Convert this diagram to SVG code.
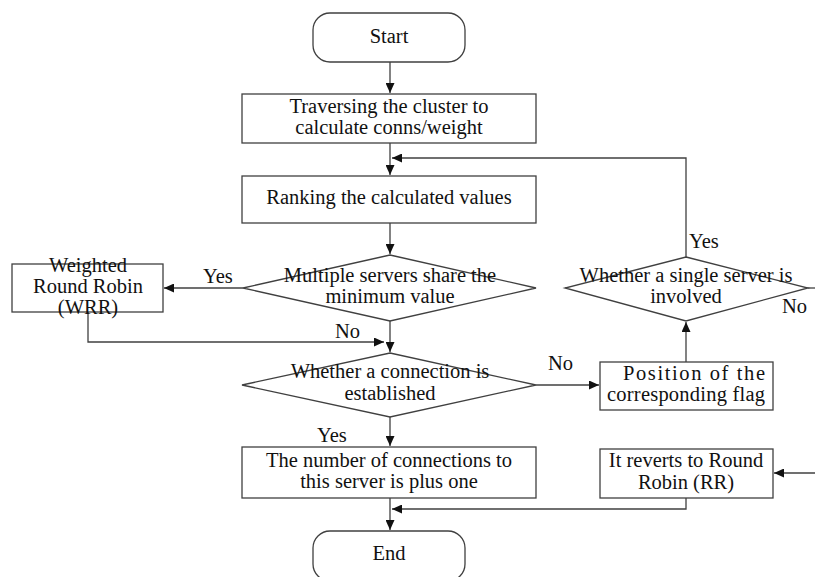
<svg xmlns="http://www.w3.org/2000/svg" width="815" height="577" viewBox="0 0 815 577" font-family="'Liberation Serif', Tinos, 'Times New Roman', 'DejaVu Serif', serif">
<style>
.box{fill:#fff;stroke:#404040;stroke-width:1.3}
.ln{fill:none;stroke:#404040;stroke-width:1.3}
.arr{marker-end:url(#ah)}
text{font-family:'Liberation Serif', Tinos, 'Times New Roman', 'DejaVu Serif', serif;font-size:20.5px;fill:#111}
.c{text-anchor:middle}
</style>
<defs>
<marker id="ah" markerUnits="userSpaceOnUse" markerWidth="11" markerHeight="9" refX="10" refY="4.5" orient="auto">
<path d="M0,0 L10,4.5 L0,9 z" fill="#111"/>
</marker>
</defs>
<rect width="815" height="577" fill="#fff"/>
<g id="connectors">
<path class="ln arr" d="M390,62 V93"/>
<path class="ln arr" d="M390,143 V175"/>
<path class="ln arr" d="M686,257 V158 H392"/>
<path class="ln arr" d="M390,223 V254"/>
<path class="ln arr" d="M243,288 H164"/>
<path class="ln arr" d="M88,312 V342 H384"/>
<path class="ln arr" d="M390,321 V352"/>
<path class="ln arr" d="M536,385 H599"/>
<path class="ln arr" d="M390,417 V446"/>
<path class="ln arr" d="M686,362 V322"/>
<path class="ln" d="M808,288 H815"/>
<path class="ln arr" d="M815,473 H774"/>
<path class="ln arr" d="M686,498 V509 H392"/>
<path class="ln arr" d="M390,498 V530"/>
<text x="203" y="283">Yes</text>
<text x="335" y="338">No</text>
<text x="548" y="370">No</text>
<text x="317" y="442">Yes</text>
<text x="689" y="248">Yes</text>
<text x="782" y="313">No</text>
</g>
<g id="start">
<rect class="box" x="313" y="13" width="152" height="49" rx="17"/>
<text class="c" x="389" y="43">Start</text>
</g>
<g id="traverse">
<rect class="box" x="242" y="94" width="294" height="49"/>
<text class="c" x="389" y="113">Traversing the cluster to</text>
<text class="c" x="389" y="134">calculate conns/weight</text>
</g>
<g id="ranking">
<rect class="box" x="242" y="176" width="294" height="47"/>
<text class="c" x="389" y="204">Ranking the calculated values</text>
</g>
<g id="multiple">
<polygon class="box" points="390,255 536,288 390,321 243,288"/>
<text class="c" x="390" y="282">Multiple servers share the</text>
<text class="c" x="390" y="303">minimum value</text>
</g>
<g id="wrr">
<rect class="box" x="12" y="264" width="151" height="48"/>
<text class="c" x="88" y="272">Weighted</text>
<text class="c" x="88" y="293">Round Robin</text>
<text class="c" x="88" y="314">(WRR)</text>
</g>
<g id="connection">
<polygon class="box" points="390,353 536,385 390,417 242,385"/>
<text class="c" x="390" y="378">Whether a connection is</text>
<text class="c" x="390" y="400">established</text>
</g>
<g id="position">
<rect class="box" x="600" y="362" width="173" height="48"/>
<text x="623" y="380" textLength="142" lengthAdjust="spacing">Position of the</text>
<text x="607" y="401" textLength="158" lengthAdjust="spacing">corresponding flag</text>
</g>
<g id="single">
<polygon class="box" points="686,257 808,288 686,321 565,288"/>
<text class="c" x="686" y="282">Whether a single server is</text>
<text class="c" x="686" y="303">involved</text>
</g>
<g id="plusone">
<rect class="box" x="242" y="447" width="294" height="51"/>
<text class="c" x="389" y="467">The number of connections to</text>
<text class="c" x="389" y="488">this server is plus one</text>
</g>
<g id="rr">
<rect class="box" x="600" y="449" width="173" height="49"/>
<text class="c" x="686" y="467">It reverts to Round</text>
<text class="c" x="686" y="489">Robin (RR)</text>
</g>
<g id="end">
<rect class="box" x="313" y="531" width="152" height="50" rx="17"/>
<text class="c" x="389" y="560">End</text>
</g>
</svg>
